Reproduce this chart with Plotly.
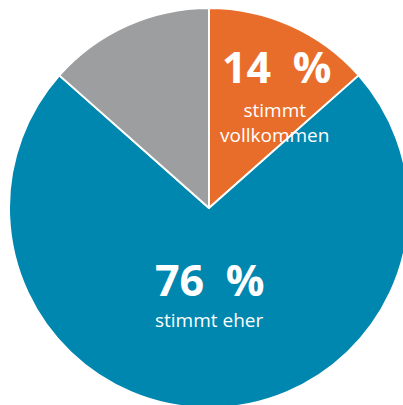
import plotly.graph_objects as go

labels = ["stimmt vollkommen", "stimmt eher", "übrige"]
values = [14, 76, 14]
colors = ["#E96D2A", "#0087AF", "#9D9EA0"]

big_numbers = ["14", "76"]
small_texts = ["stimmt<br>vollkommen", "stimmt eher"]

W, H = 418, 416
cx, cy, r = 209, 208, 200

fig = go.Figure(go.Pie(
    labels=labels, values=values, sort=False, direction="clockwise", rotation=0,
    marker=dict(colors=colors, line=dict(color="white", width=2)),
    textinfo="none", hoverinfo="label+percent", showlegend=False,
    domain=dict(x=[(cx - r) / W, (cx + r) / W], y=[(H - cy - r) / H, (H - cy + r) / H]),
))

font = "Open Sans"
def px(x, y):
    return x / W, 1 - y / H

anns = []
for (x, y), n in zip([(276, 66), (210, 279)], big_numbers):
    ax, ay = px(x, y)
    anns.append(dict(x=ax, y=ay, xref="paper", yref="paper",
                     text="<b>" + n + "\u2002%</b>",
                     showarrow=False, font=dict(family=font, size=43, color="white"),
                     xanchor="center", yanchor="middle"))
for (x, y), t in zip([(274, 122), (209, 320)], small_texts):
    ax, ay = px(x, y)
    anns.append(dict(x=ax, y=ay, xref="paper", yref="paper", text=t,
                     showarrow=False, font=dict(family=font, size=19, color="white"),
                     xanchor="center", yanchor="middle", align="center"))

fig.update_layout(width=W, height=H, margin=dict(l=0, r=0, t=0, b=0),
                  paper_bgcolor="white", plot_bgcolor="white", annotations=anns)

fig.write_html("out.html", config={"displayModeBar": False},
               post_script="document.body.style.margin='0';document.body.style.overflow='hidden';document.documentElement.style.overflow='hidden';")
